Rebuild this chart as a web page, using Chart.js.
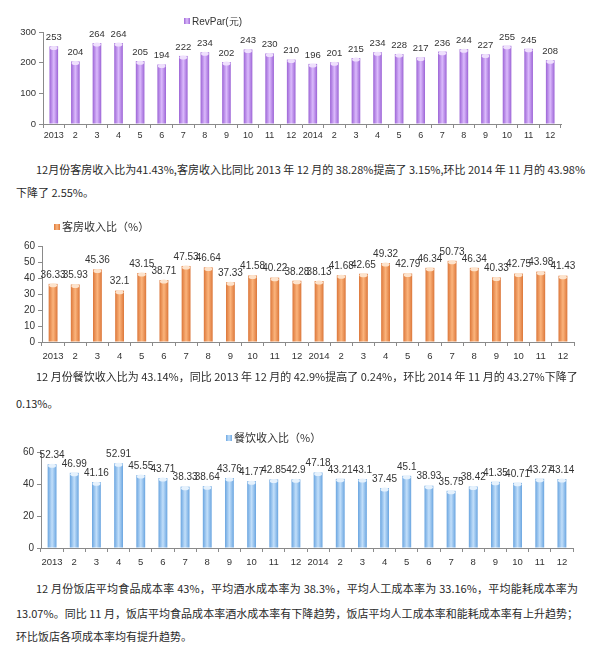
<!DOCTYPE html>
<html>
<head>
<meta charset="utf-8">
<script src="https://cdn.jsdelivr.net/npm/chart.js@4.4.1/dist/chart.umd.min.js"></script>
<style>
  body { margin: 0; width: 589px; height: 662px; background: #fff; position: relative; overflow: hidden; }
  canvas { position: absolute; left: 0; }
  .line { position: absolute; font-family: "Noto Sans CJK SC", sans-serif; font-size: 11px; color: #2a2a2a; white-space: nowrap; line-height: 16px; }
  .just { text-align: justify; text-align-last: justify; }
  .lg { position: absolute; font-size: 10px; color: #333; white-space: nowrap; line-height: 12px; }
  .lg i { display: inline-block; width: 6px; height: 6px; margin-right: 2px; vertical-align: 1px; }
  .lg .en { font-family: "Liberation Sans", sans-serif; }
  .lg .cn { font-family: "Noto Sans CJK SC", sans-serif; font-size: 11px; }
</style>
</head>
<body>

<canvas id="chartRevpar" width="589" height="145" style="top:0"></canvas>
<div class="lg" style="left:184px;top:16px"><i style="background:linear-gradient(90deg,#a06ad8,#dcbcfb,#a06ad8)"></i><span class="en">RevPar(元)</span></div>

<div class="line just" style="left:36px;top:161px;width:540px">12月份客房收入比为41.43%,客房收入比同比 2013 年 12 月的 38.28%提高了 3.15%,环比 2014 年 11 月的 43.98%</div>
<div class="line" style="left:16px;top:184px">下降了 2.55%。</div>

<canvas id="chartRoom" width="589" height="170" style="top:200px"></canvas>
<div class="lg" style="left:54px;top:220px"><i style="background:linear-gradient(90deg,#dd7a3a,#fbb57e,#dd7a3a)"></i><span class="cn">客房收入比（%）</span></div>

<div class="line just" style="left:36px;top:368px;width:541px">12 月份餐饮收入比为 43.14%，同比 2013 年 12 月的 42.9%提高了 0.24%，环比 2014 年 11 月的 43.27%下降了</div>
<div class="line" style="left:16px;top:395px">0.13%。</div>

<canvas id="chartFood" width="589" height="155" style="top:420px"></canvas>
<div class="lg" style="left:226px;top:431px"><i style="background:linear-gradient(90deg,#6ea8e2,#c0defa,#6ea8e2)"></i><span class="cn">餐饮收入比（%）</span></div>

<div class="line just" style="left:36px;top:580px;width:542px">12 月份饭店平均食品成本率 43%，平均酒水成本率为 38.3%，平均人工成本率为 33.16%，平均能耗成本率为</div>
<div class="line just" style="left:16px;top:605px;width:562px">13.07%。同比 11 月，饭店平均食品成本率酒水成本率有下降趋势，饭店平均人工成本率和能耗成本率有上升趋势；</div>
<div class="line" style="left:16px;top:628px">环比饭店各项成本率均有提升趋势。</div>

<script>
// categories: 2013.1 - 2014.12
const months = ['2013', '2', '3', '4', '5', '6', '7', '8', '9', '10', '11', '12',
                '2014', '2', '3', '4', '5', '6', '7', '8', '9', '10', '11', '12'];

// RevPar (元)
const revpar = [253, 204, 264, 264, 205, 194, 222, 234, 202, 243, 230, 210,
                196, 201, 215, 234, 228, 217, 236, 244, 227, 255, 245, 208];

// 客房收入比 (%)
const roomShare = [36.33, 35.93, 45.36, 32.1, 43.15, 38.71, 47.53, 46.64, 37.33, 41.58, 40.22, 38.28,
                   38.13, 41.68, 42.65, 49.32, 42.79, 46.34, 50.73, 46.34, 40.33, 42.75, 43.98, 41.43];

// 餐饮收入比 (%)
const foodShare = [52.34, 46.99, 41.16, 52.91, 45.55, 43.71, 38.33, 38.64, 43.76, 41.77, 42.85, 42.9,
                   47.18, 43.21, 43.1, 37.45, 45.1, 38.93, 35.75, 38.42, 41.35, 40.71, 43.27, 43.14];

const revparTicks = [0, 100, 200, 300];
const roomTicks = [0, 10, 20, 30, 40, 50, 60];
const foodTicks = [0, 20, 40, 60];

const axisGrey = '#8a8a8a';

// cylinder-like fill: dark edges, light middle
function cylinderFill(edge, mid) {
    return function (ctx) {
        const chart = ctx.chart;
        const xs = chart.scales.x;
        if (!xs || !chart.chartArea) return edge;
        const cx = xs.getPixelForValue(ctx.dataIndex);
        const half = (xs.width / months.length) * 0.2;
        const g = chart.ctx.createLinearGradient(cx - half, 0, cx + half, 0);
        g.addColorStop(0, edge);
        g.addColorStop(0.5, mid);
        g.addColorStop(1, edge);
        return g;
    };
}

// top cap + value labels
const barDecor = {
    id: 'barDecor',
    afterDatasetsDraw(chart, args, opts) {
        const ctx = chart.ctx;
        const meta = chart.getDatasetMeta(0);
        const vals = chart.data.datasets[0].data;
        ctx.save();
        meta.data.forEach((bar, i) => {
            const w = bar.width;
            ctx.fillStyle = opts.cap;
            ctx.beginPath();
            ctx.ellipse(bar.x, bar.y + 1.5, w / 2 - 0.5, 2, 0, 0, Math.PI * 2);
            ctx.fill();
        });
        ctx.fillStyle = '#333';
        ctx.font = opts.font;
        ctx.textAlign = 'center';
        ctx.textBaseline = 'bottom';
        meta.data.forEach((bar, i) => {
            ctx.fillText(String(vals[i]), bar.x, bar.y - opts.gap);
        });
        ctx.restore();
    }
};

function makeChart(id, values, ticks, edge, mid, cap, box) {
    const cv = document.getElementById(id);
    const H = cv.height;
    return new Chart(cv, {
        type: 'bar',
        data: {
            labels: months,
            datasets: [{
                data: values,
                backgroundColor: cylinderFill(edge, mid),
                borderWidth: 0,
                barPercentage: 0.8,
                categoryPercentage: 0.5
            }]
        },
        options: {
            responsive: false,
            animation: false,
            layout: { padding: { left: 0, right: 589 - box.right, top: box.top, bottom: 0 } },
            plugins: {
                legend: { display: false },
                tooltip: { enabled: false },
                barDecor: { cap: cap, font: box.labelFont, gap: 4 }
            },
            scales: {
                x: {
                    grid: { drawOnChartArea: false, color: axisGrey, tickLength: 4, offset: true },
                    border: { color: axisGrey },
                    ticks: {
                        color: '#333', padding: box.xPad, maxRotation: 0, autoSkip: false,
                        font: { family: 'Liberation Sans', size: box.tickSize }
                    },
                    afterFit: s => { s.height = H - box.bottom; }
                },
                y: {
                    min: ticks[0],
                    max: ticks[ticks.length - 1],
                    afterBuildTicks: s => { s.ticks = ticks.map(v => ({ value: v })); },
                    grid: { drawOnChartArea: false, color: axisGrey, tickLength: 4 },
                    border: { color: axisGrey },
                    ticks: {
                        color: '#333', padding: 3,
                        font: { family: 'Liberation Sans', size: box.tickSize + 0.5 }
                    },
                    afterFit: s => { s.width = box.left; }
                }
            }
        },
        plugins: [barDecor]
    });
}

makeChart('chartRevpar', revpar, revparTicks, '#9c64d6', '#dbbafc', '#efe0fd',
    { left: 43, right: 561, top: 32, bottom: 124, xPad: 2, tickSize: 9, labelFont: '9.5px "Liberation Sans"' });

makeChart('chartRoom', roomShare, roomTicks, '#dc773a', '#fbb47c', '#fde3cc',
    { left: 42, right: 574, top: 46, bottom: 142, xPad: 5, tickSize: 9.5, labelFont: '10px "Liberation Sans"' });

makeChart('chartFood', foodShare, foodTicks, '#6aa5e0', '#c2dffa', '#e6f2fd',
    { left: 41, right: 573, top: 32, bottom: 128, xPad: 5, tickSize: 9.5, labelFont: '10px "Liberation Sans"' });
</script>
</body>
</html>
